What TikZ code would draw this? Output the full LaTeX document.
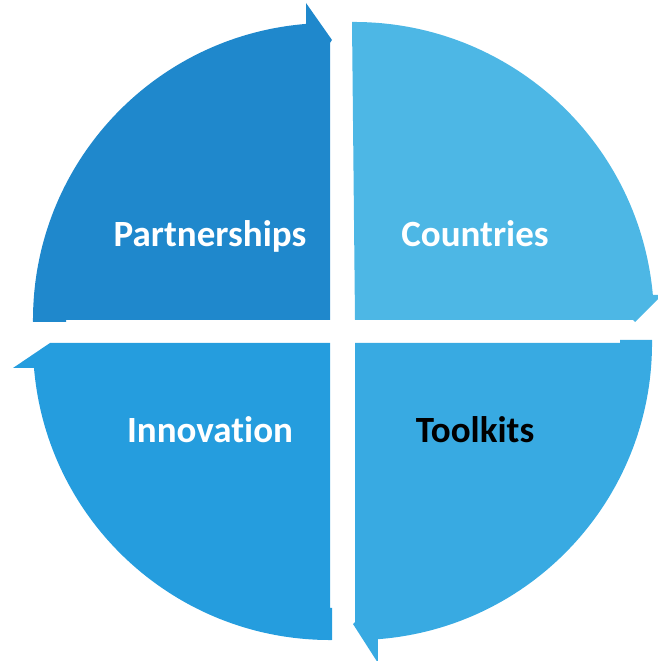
\documentclass[tikz,border=0pt]{standalone}
\usepackage{fontspec}
\setmainfont{Carlito}[Ligatures=NoCommon]
\definecolor{segA}{RGB}{31,136,204}
\definecolor{segB}{RGB}{77,183,229}
\definecolor{segC}{RGB}{56,170,226}
\definecolor{segD}{RGB}{37,157,222}
\begin{document}
\begin{tikzpicture}[x=1pt,y=1pt,
  lbl/.style={anchor=base,font=\fontsize{37}{40}\selectfont\bfseries,text=white}]
\useasboundingbox (0,0) rectangle (658,661);

% top-left quarter, arrow head at the top pointing right
\fill[segA] (330,341) -- (66,341) -- (66,339) -- (33,339)
  arc[start angle=180.4, end angle=94.6, radius=297]
  -- (306,658) -- (332,621) -- (330,618) -- cycle;

% top-right quarter, arrow head at the right pointing down
\fill[segB] (355,341) -- (352,639)
  arc[start angle=90.4, end angle=5.2, radius=300]
  -- (662,366) -- (635,339) -- (633,341) -- cycle;

% bottom-right quarter, arrow head at the bottom pointing left
\fill[segC] (355,318) -- (620,318) -- (620,321) -- (652,321)
  arc[start angle=0.6, end angle=-85.6, radius=297]
  -- (378,-2) -- (353,37) -- (355,39) -- cycle;

% bottom-left quarter, arrow head at the left pointing up
\fill[segD] (330,318) -- (330,53) -- (332,53) -- (332,21)
  arc[start angle=-89.6, end angle=-175.2, radius=297]
  -- (13,293) -- (50,318) -- cycle;

\node[lbl] (partner) at (210,414) {Partnerships};
\node[lbl] (country) at (475,414) {Countries};
\node[lbl] (innov) at (210,218) {Innovation};
\node[lbl,text=black] (tools) at (475,218) {Toolkits};
\end{tikzpicture}
\end{document}
